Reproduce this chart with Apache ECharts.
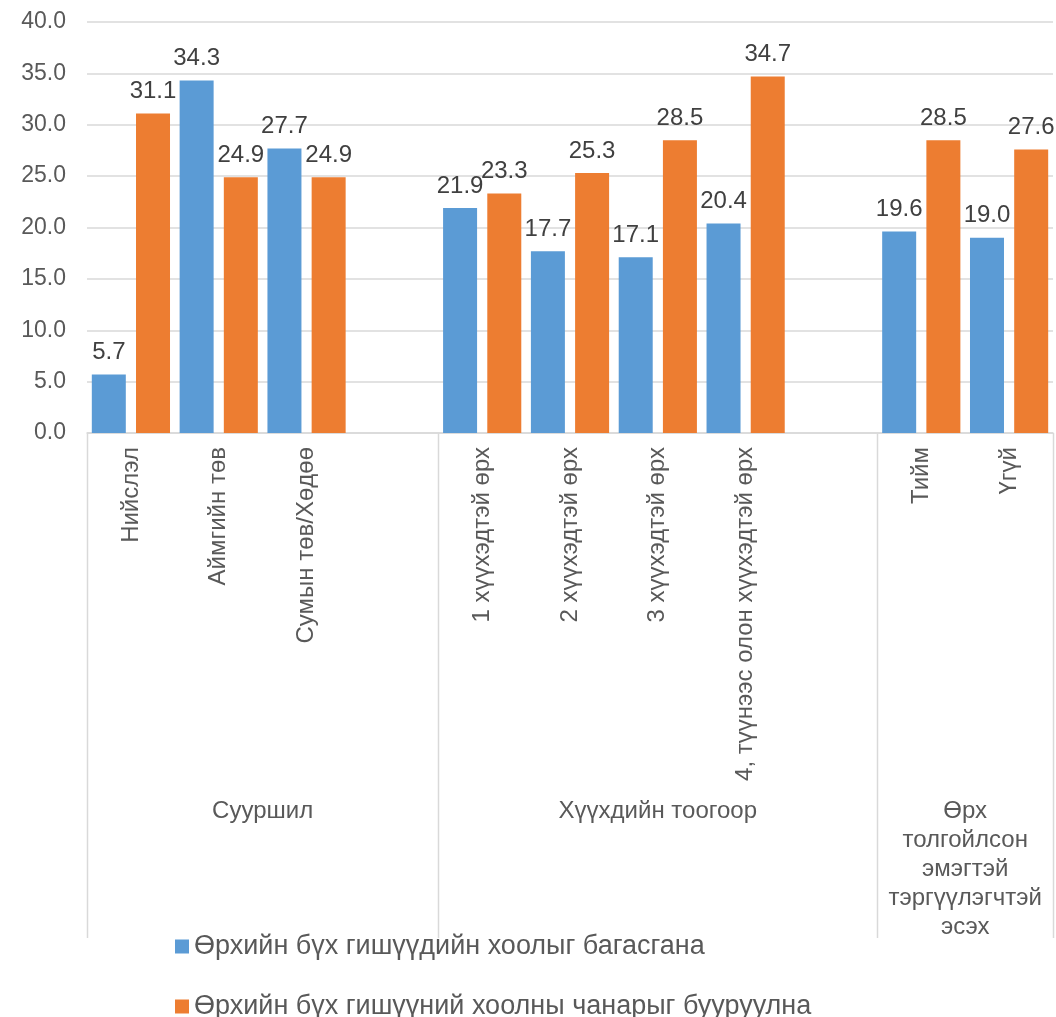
<!DOCTYPE html>
<html>
<head>
<meta charset="utf-8">
<script src="https://cdn.jsdelivr.net/npm/echarts@6/dist/echarts.min.js"></script>
<style>
  html, body { margin: 0; padding: 0; background: #fff; }
  #main { width: 1056px; height: 1017px; }
</style>
</head>
<body>
<div id="main"></div>
<script>
// categories ('' = empty slot between groups)
var categories = ['Нийслэл', 'Аймгийн төв', 'Сумын төв/Хөдөө', '',
  '1 хүүхэдтэй өрх', '2 хүүхэдтэй өрх', '3 хүүхэдтэй өрх', '4, түүнээс олон хүүхэдтэй өрх', '',
  'Тийм', 'Үгүй'];
// second level: group names and how many slots each spans
var groupNames = ['Сууршил', 'Хүүхдийн тоогоор', 'Өрх\nтолгойлсон\nэмэгтэй\nтэргүүлэгчтэй\nэсэх'];
var groupSpans = [4, 5, 2];

var seriesNames = ['Өрхийн бүх гишүүдийн хоолыг багасгана', 'Өрхийн бүх гишүүний хоолны чанарыг бууруулна'];
var reduceAmount = [5.7, 34.3, 27.7, null, 21.9, 17.7, 17.1, 20.4, null, 19.6, 19.0];
var reduceQuality = [31.1, 24.9, 24.9, null, 23.3, 25.3, 28.5, 34.7, null, 28.5, 27.6];

var yTicks = { min: 0, max: 40, interval: 5 };

var FONT = '"Liberation Sans", Arial, sans-serif';
var chart = echarts.init(document.getElementById('main'));

function barSeries(name, data, color) {
  return {
    name: name,
    type: 'bar',
    data: data,
    barWidth: 34,
    barGap: '30%',
    itemStyle: { color: color },
    label: {
      show: true,
      position: 'top',
      distance: 10,
      fontFamily: FONT,
      fontSize: 24,
      color: '#404040',
      formatter: function (p) { return p.value == null ? '' : p.value.toFixed(1); }
    }
  };
}

chart.setOption({
  animation: false,
  textStyle: { fontFamily: FONT },
  grid: { left: 87, right: 3, top: 22, bottom: 584 },
  legend: {
    orient: 'vertical',
    left: 170,
    top: 928,
    height: 120,
    itemWidth: 14,
    itemHeight: 14,
    itemGap: 33,
    icon: 'rect',
    textStyle: { fontFamily: FONT, fontSize: 27, color: '#595959' },
    data: seriesNames
  },
  xAxis: {
    type: 'category',
    data: categories,
    axisLine: { lineStyle: { color: '#d9d9d9', width: 1.5 } },
    axisTick: { show: false },
    axisLabel: {
      rotate: 90,
      interval: 0,
      margin: 14,
      fontFamily: FONT,
      fontSize: 24,
      color: '#595959'
    }
  },
  yAxis: {
    type: 'value',
    min: yTicks.min,
    max: yTicks.max,
    interval: yTicks.interval,
    axisLine: { show: false },
    axisTick: { show: false },
    splitLine: { lineStyle: { color: '#d9d9d9', width: 1.5 } },
    axisLabel: {
      margin: 21,
      fontFamily: FONT,
      fontSize: 23,
      color: '#595959',
      formatter: function (v) { return v.toFixed(1); }
    }
  },
  series: [
    barSeries(seriesNames[0], reduceAmount, '#5b9bd5'),
    barSeries(seriesNames[1], reduceQuality, '#ed7d31')
  ]
});

// multi-level axis: separators and group labels from the category scale
function drawGroups() {
  var p0 = chart.convertToPixel({ xAxisIndex: 0 }, 0);
  var p1 = chart.convertToPixel({ xAxisIndex: 0 }, 1);
  var band = p1 - p0;
  var axisY = chart.convertToPixel({ yAxisIndex: 0 }, 0);
  var lineBottom = axisY + 505;
  var elements = [];
  var start = 0;
  var edges = [0];
  groupSpans.forEach(function (n) { start += n; edges.push(start); });
  edges.forEach(function (e) {
    var x = Math.round(p0 - band / 2 + e * band) + 0.5;
    elements.push({
      type: 'line',
      shape: { x1: x, y1: axisY, x2: x, y2: lineBottom },
      style: { stroke: '#d9d9d9', lineWidth: 1.5 },
      silent: true
    });
  });
  groupNames.forEach(function (name, i) {
    var cx = p0 - band / 2 + (edges[i] + edges[i + 1]) / 2 * band;
    elements.push({
      type: 'text',
      x: cx,
      y: axisY + 364,
      style: {
        text: name,
        fontFamily: FONT,
        fontSize: 24,
        lineHeight: 29,
        fill: '#595959',
        align: 'center',
        verticalAlign: 'top'
      },
      silent: true
    });
  });
  chart.setOption({ graphic: { elements: elements } });
}
drawGroups();
</script>
</body>
</html>
